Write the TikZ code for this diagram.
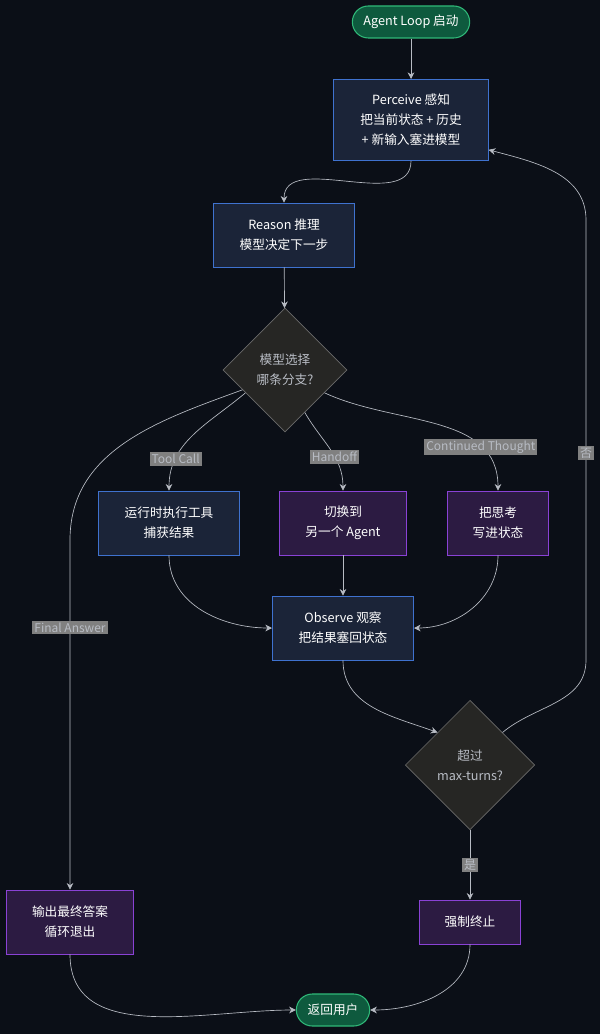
\documentclass[tikz,border=0pt]{standalone}
\usepackage{fontspec}
\setmainfont{Noto Sans CJK SC}
\usetikzlibrary{shapes.geometric,arrows.meta}
\definecolor{bgc}{HTML}{0B0F17}
\definecolor{bluef}{HTML}{1B2438}
\definecolor{blued}{HTML}{3F72CF}
\definecolor{purf}{HTML}{2C1B42}
\definecolor{purd}{HTML}{8A42D6}
\definecolor{grnf}{HTML}{0E5A3E}
\definecolor{grnd}{HTML}{2FB878}
\definecolor{dmf}{HTML}{262624}
\definecolor{dmd}{HTML}{6A6A6A}
\definecolor{edg}{HTML}{B8BCC4}

\begin{document}
\begin{tikzpicture}[x=0.75pt, y=-0.75pt,
    every node/.style={font=\fontsize{9.5}{15}\selectfont, text=white, align=center},
    blk/.style={draw=blued, fill=bluef, inner sep=0pt},
    pur/.style={draw=purd, fill=purf, inner sep=0pt},
    term/.style={draw=grnd, fill=grnf, rounded corners=12pt, minimum height=24pt, thick},
    dec/.style={diamond, draw=dmd, fill=dmf, minimum width=93pt, minimum height=93pt, inner sep=0pt, text=edg},
    lbl/.style={fill=dmd!85, text=edg, inner sep=1.5pt, font=\fontsize{9}{10}\selectfont},
    every path/.style={edg, line width=0.5pt},
    >={Stealth[length=5pt,width=5pt]}]
          \fill[bgc] (0,0) rectangle (600,1034);
          \useasboundingbox (0,0) rectangle (600,1034);

          \node[term, minimum width=88pt] (start) at (411,22) {Agent Loop 启动};
          \node[blk, minimum width=116pt, minimum height=61pt] (perceive) at (411,120) {Perceive 感知\\把当前状态 + 历史\\+ 新输入塞进模型};
          \node[blk, minimum width=106pt, minimum height=48pt] (reason) at (284,235) {Reason 推理\\模型决定下一步};
          \node[dec] (choose) at (285,370) {模型选择\\哪条分支?};
          \node[blk, minimum width=106pt, minimum height=48pt] (tool) at (169,523) {运行时执行工具\\捕获结果};
          \node[pur, minimum width=95pt, minimum height=48pt] (handoff) at (343,523) {切换到\\另一个 Agent};
          \node[pur, minimum width=76pt, minimum height=48pt] (thought) at (498,523) {把思考\\写进状态};
          \node[blk, minimum width=106pt, minimum height=48pt] (observe) at (343,628) {Observe 观察\\把结果塞回状态};
          \node[dec, minimum width=97pt, minimum height=97pt] (turns) at (470,765) {超过\\max-turns?};
          \node[pur, minimum width=95pt, minimum height=48pt] (final) at (70,922) {输出最终答案\\循环退出};
          \node[pur, minimum width=76pt, minimum height=33pt] (stop) at (470,922) {强制终止};
          \node[term, minimum width=55pt] (ret) at (333,1010) {返回用户};

          \coordinate (fa) at (70,540);
          \coordinate (no1) at (586,660);
          \coordinate (no2) at (586,220);

          \draw[->] (start) -- (perceive);
          \draw[->] (perceive.south) to[out=-90, in=90] (reason.north);
          \draw[->] (reason) -- (choose);
          \draw[->] (choose.-150) to[out=-140, in=90] node[lbl, pos=0.75] {Tool Call} (tool.north);
          \draw[->] (choose.-65) to[out=-60, in=90] node[lbl, pos=0.6] {Handoff} (handoff.north);
          \draw[->] (choose.-30) to[out=-25, in=90] node[lbl, pos=0.75] {Continued Thought} (thought.north);
          \draw[->] (choose.-155) to[out=-160, in=90] (fa) -- node[lbl, pos=0.25] {Final Answer} (final.north);
          \draw[->] (tool.south) to[out=-90, in=180] (observe.west);
          \draw[->] (handoff) -- (observe);
          \draw[->] (thought.south) to[out=-90, in=0] (observe.east);
          \draw[->] (observe.south) to[out=-90, in=160] (turns.north west);
          \draw[->] (turns.north east) to[out=40, in=-90] (no1) -- node[lbl, pos=0.47] {否} (no2) to[out=90, in=-15] (perceive.-21);
          \draw[->] (turns.south) -- node[lbl] {是} (stop.north);
          \draw[->] (final.south) to[out=-90, in=180] (ret.west);
          \draw[->] (stop.south) to[out=-90, in=0] (ret.east);
        \end{tikzpicture}
\end{document}
